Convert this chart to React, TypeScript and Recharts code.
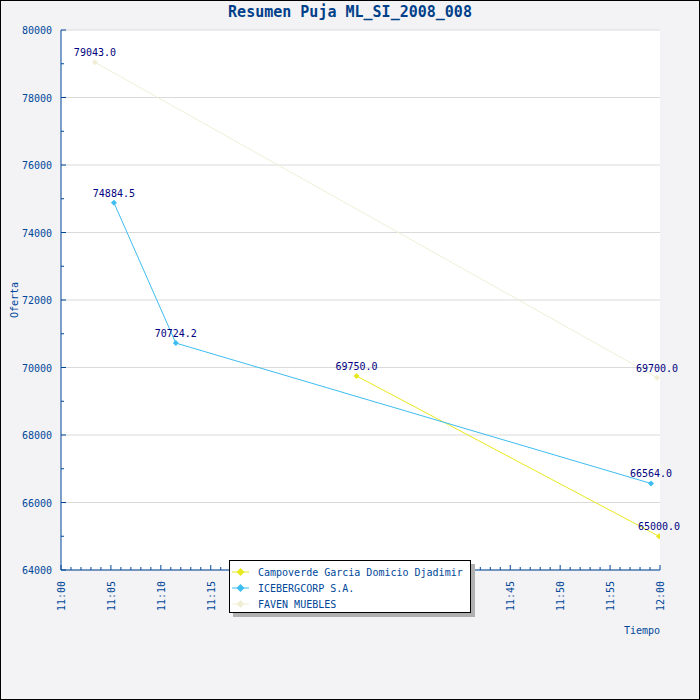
import { LineChart, Line, XAxis, YAxis, CartesianGrid, Legend, LabelList } from 'recharts';

const FONT = '"DejaVu Sans Mono", "Liberation Mono", monospace';
const AXIS_BLUE = '#00479a';
const LABEL_NAVY = '#000080';

// time is minutes after 11:00
const campoverdeTime = [29.6, 59.9];
const campoverdeBid = [69750.0, 65000.0];
const icebergTime = [5.3, 11.5, 59.1];
const icebergBid = [74884.5, 70724.2, 66564.0];
const favenTime = [3.4, 59.7];
const favenBid = [79043.0, 69700.0];

const seriesNames = ['Campoverde Garcia Domicio Djadimir', 'ICEBERGCORP S.A.', 'FAVEN MUEBLES'];
const seriesColors = ['#e8e81e', '#3dbdf0', '#f0efd6'];

const timeTickLabels = ['11:00', '11:05', '11:10', '11:15', '11:20', '11:25', '11:30', '11:35', '11:40', '11:45', '11:50', '11:55', '12:00'];
const bidTickLabels = [64000, 66000, 68000, 70000, 72000, 74000, 76000, 78000, 80000];

// minor ticks: every minute / every 1000
const timeTicks = Array.from({ length: 61 }, (_, i) => i);
const bidTicks = Array.from({ length: 17 }, (_, i) => 64000 + i * 1000);

const zip = (ts: number[], vs: number[]) => ts.map((t, i) => ({ t, bid: vs[i] }));
const seriesData = [
  zip(campoverdeTime, campoverdeBid),
  zip(icebergTime, icebergBid),
  zip(favenTime, favenBid),
];

const diamond = (cx: number, cy: number, r: number) =>
  `M${cx},${cy - r}L${cx + r},${cy}L${cx},${cy + r}L${cx - r},${cy}Z`;

function TimeTick({ x, y, payload }: any) {
  const m = payload.value;
  const major = m % 5 === 0;
  return (
    <g>
      <line x1={x} x2={x} y1={y} y2={y - (major ? 5 : 3)} stroke={AXIS_BLUE} />
      {major && (
        <text
          x={x}
          y={y + 11}
          dy={4}
          transform={`rotate(-90 ${x} ${y + 11})`}
          textAnchor="end"
          fill={AXIS_BLUE}
          fontSize={10}
          fontFamily={FONT}
        >
          {timeTickLabels[m / 5]}
        </text>
      )}
    </g>
  );
}

function BidTick({ x, y, payload }: any) {
  const v = payload.value;
  const major = v % 2000 === 0;
  return (
    <g>
      <line x1={x} x2={x + (major ? 5 : 3)} y1={y} y2={y} stroke={AXIS_BLUE} />
      {major && (
        <text x={x - 9} y={y} dy={4} textAnchor="end" fill={AXIS_BLUE} fontSize={10} fontFamily={FONT}>
          {v}
        </text>
      )}
    </g>
  );
}

function ValueLabel(props: any) {
  const x = props.x ?? props.viewBox?.x;
  const y = props.y ?? props.viewBox?.y;
  return (
    <text x={x} y={y - 6} textAnchor="middle" fill={LABEL_NAVY} fontSize={10} fontFamily={FONT}>
      {Number(props.value).toFixed(1)}
    </text>
  );
}

function LegendBox({ payload }: any) {
  // keep the series order, not the alphabetical one
  const items = [...(payload || [])].sort(
    (a: any, b: any) => seriesNames.indexOf(a.value) - seriesNames.indexOf(b.value)
  );
  return (
    <div
      style={{
        width: 242,
        height: 53,
        boxSizing: 'border-box',
        border: '1px solid #000',
        background: '#fff',
        boxShadow: '4px 4px 0 #b0b0b0',
        paddingTop: 3,
        fontFamily: FONT,
        fontSize: 10,
        color: AXIS_BLUE,
      }}
    >
      {items.map((e: any, i: number) => (
        <div key={i} style={{ display: 'flex', alignItems: 'center', height: 16 }}>
          <svg width={27} height={10} style={{ marginLeft: 1 }}>
            <line x1={1} x2={18} y1={5} y2={5} stroke={e.color} />
            <path d={diamond(9.5, 5, 4)} fill={e.color} />
          </svg>
          <span style={{ whiteSpace: 'nowrap' }}>{e.value}</span>
        </div>
      ))}
    </div>
  );
}

export default function App() {
  return (
    <div style={{ position: 'absolute', left: 0, top: 0, width: 700, height: 700, background: '#f3f3f5' }}>
      <LineChart width={700} height={700} margin={{ top: 30, right: 40, bottom: 0, left: 0 }}>
        <CartesianGrid
          vertical={false}
          horizontalValues={bidTickLabels}
          stroke="#dadada"
          fill="#ffffff"
        />
        <XAxis
          dataKey="t"
          type="number"
          domain={[0, 60]}
          ticks={timeTicks}
          interval={0}
          height={130}
          tickSize={0}
          tickMargin={0}
          axisLine={{ stroke: AXIS_BLUE }}
          tick={<TimeTick />}
          allowDataOverflow
          label={{
            content: ({ viewBox }: any) => (
              <text
                x={viewBox.x + viewBox.width}
                y={viewBox.y + 64}
                textAnchor="end"
                fill={AXIS_BLUE}
                fontSize={10}
                fontFamily={FONT}
              >
                Tiempo
              </text>
            ),
          }}
        />
        <YAxis
          type="number"
          domain={[64000, 80000]}
          ticks={bidTicks}
          interval={0}
          width={61}
          tickSize={0}
          tickMargin={0}
          axisLine={{ stroke: AXIS_BLUE }}
          tick={<BidTick />}
          allowDataOverflow
          label={{
            content: ({ viewBox }: any) => {
              const cx = viewBox.x + 14;
              const cy = viewBox.y + viewBox.height / 2;
              return (
                <text
                  x={cx}
                  y={cy}
                  dy={4}
                  transform={`rotate(-90 ${cx} ${cy})`}
                  textAnchor="middle"
                  fill={AXIS_BLUE}
                  fontSize={10}
                  fontFamily={FONT}
                >
                  Oferta
                </text>
              );
            },
          }}
        />
        <Legend
          layout="horizontal"
          verticalAlign="middle"
          align="center"
          wrapperStyle={{ left: 229, top: 560, width: 246, height: 57 }}
          content={<LegendBox />}
        />
        {seriesData.map((data, i) => (
          <Line
            key={seriesNames[i]}
            data={data}
            dataKey="bid"
            name={seriesNames[i]}
            type="linear"
            stroke={seriesColors[i]}
            strokeWidth={1}
            dot={(p: any) => <path key={`dot-${i}-${p.index}`} d={diamond(p.cx, p.cy, 3)} fill={seriesColors[i]} />}
            activeDot={false}
            isAnimationActive={false}
          >
            <LabelList dataKey="bid" content={<ValueLabel />} />
          </Line>
        ))}
      </LineChart>
      <div
        style={{
          position: 'absolute',
          left: 0,
          top: 3,
          width: 700,
          textAlign: 'center',
          fontFamily: FONT,
          fontSize: 15,
          fontWeight: 'bold',
          lineHeight: '18px',
          color: '#003f8a',
        }}
      >
        Resumen Puja ML_SI_2008_008
      </div>
      <div
        style={{
          position: 'absolute',
          left: 0,
          top: 0,
          width: 700,
          height: 700,
          boxSizing: 'border-box',
          border: '1px solid #000',
          pointerEvents: 'none',
        }}
      />
    </div>
  );
}
